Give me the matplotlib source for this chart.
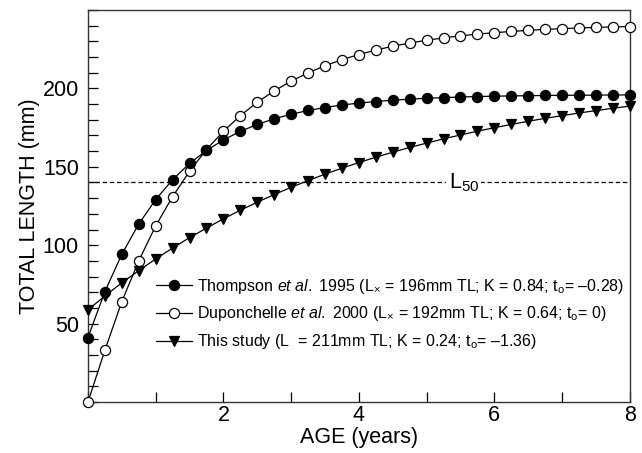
import matplotlib
matplotlib.use('Agg')
import matplotlib.pyplot as plt
from matplotlib.ticker import MultipleLocator

plt.rcParams['font.family'] = ['Liberation Sans', 'DejaVu Sans']
plt.rcParams['mathtext.fontset'] = 'custom'
plt.rcParams['mathtext.rm'] = 'Liberation Sans'
plt.rcParams['mathtext.it'] = 'Liberation Sans:italic'

# age in years, one point every quarter year
AGES = [0.0, 0.25, 0.5, 0.75, 1.0, 1.25, 1.5, 1.75, 2.0, 2.25, 2.5, 2.75,
        3.0, 3.25, 3.5, 3.75, 4.0, 4.25, 4.5, 4.75, 5.0, 5.25, 5.5, 5.75,
        6.0, 6.25, 6.5, 6.75, 7.0, 7.25, 7.5, 7.75, 8.0]

THOMPSON = [41.1, 70.4, 94.2, 113.5, 129.1, 141.8, 152.1, 160.4, 167.1, 172.6,
            177.0, 180.6, 183.5, 185.9, 187.8, 189.4, 190.6, 191.6, 192.5, 193.1,
            193.7, 194.1, 194.5, 194.8, 195.0, 195.2, 195.3, 195.5, 195.6, 195.6,
            195.7, 195.8, 195.8]

DUPONCHELLE = [0.0, 33.0, 64.0, 90.0, 112.3, 131.0, 147.1, 161.0, 172.6, 182.6,
               191.1, 198.4, 204.6, 209.9, 214.4, 218.3, 221.6, 224.4, 226.9, 228.9,
               230.7, 232.2, 233.5, 234.6, 235.5, 236.3, 237.0, 237.6, 238.1, 238.5,
               238.9, 239.2, 239.4]

THIS_STUDY = [58.8, 67.6, 76.0, 83.8, 91.2, 98.2, 104.8, 110.9, 116.8, 122.3,
              127.4, 132.3, 136.9, 141.2, 145.3, 149.1, 152.7, 156.1, 159.3, 162.3,
              165.1, 167.8, 170.3, 172.7, 174.9, 177.0, 179.0, 180.9, 182.6, 184.3,
              185.8, 187.3, 188.7]

L50 = 140

LABELS = [
    'Thompson $\\mathit{et\\ al.}$ 1995 (L$_{\\times}$ = 196mm TL; K = 0.84; t$_{\\mathrm{o}}$= \u20130.28)',
    'Duponchelle $\\mathit{et\\ al.}$ 2000 (L$_{\\times}$ = 192mm TL; K = 0.64; t$_{\\mathrm{o}}$= 0)',
    'This study (L  = 211mm TL; K = 0.24; t$_{\\mathrm{o}}$= \u20131.36)',
]

fig = plt.figure(figsize=(6.42, 4.53), dpi=100)
ax = fig.add_axes([0.137, 0.1126, 0.844, 0.8654])

style = dict(color='black', lw=0.9, markersize=7.3, markeredgewidth=0.9,
             markeredgecolor='black')
ax.plot(AGES, THOMPSON, marker='o', markerfacecolor='black',
        label=LABELS[0], zorder=4, clip_on=False, **style)
ax.plot(AGES, DUPONCHELLE, marker='o', markerfacecolor='white',
        label=LABELS[1], zorder=3, clip_on=False, **style)
ax.plot(AGES, THIS_STUDY, marker='v', markerfacecolor='black',
        label=LABELS[2], zorder=5, clip_on=False, **style)

ax.axhline(L50, color='black', lw=0.9, ls=(0, (3.5, 2.2)), zorder=1)
ax.text(5.55, L50, 'L$_{50}$', fontsize=15.5, ha='center', va='center',
        bbox=dict(facecolor='white', edgecolor='none', pad=1.5), zorder=2)

ax.set_xlim(0, 8)
ax.set_ylim(0, 250)
ax.set_xticks([2, 4, 6, 8])
ax.xaxis.set_minor_locator(MultipleLocator(1))
ax.set_yticks([50, 100, 150, 200])
ax.yaxis.set_minor_locator(MultipleLocator(10))
ax.tick_params(which='both', direction='in', length=7, width=0.9,
               top=False, right=False, labelsize=15.5)
ax.tick_params(axis='y', pad=6.5)
ax.tick_params(axis='x', pad=2)
for sp in ax.spines.values():
    sp.set_linewidth(1.0)
    sp.set_color('#333333')

ax.set_xlabel('AGE (years)', fontsize=15.5, labelpad=1)
ax.set_ylabel('TOTAL LENGTH (mm)', fontsize=15.5, labelpad=2)

ax.legend(loc='upper left', bbox_to_anchor=(0.125, 0.32), frameon=False,
          fontsize=11.5, handlelength=2.3, handletextpad=0.3, borderpad=0,
          borderaxespad=0, labelspacing=0.55)

fig.savefig('out.png', dpi=100)
